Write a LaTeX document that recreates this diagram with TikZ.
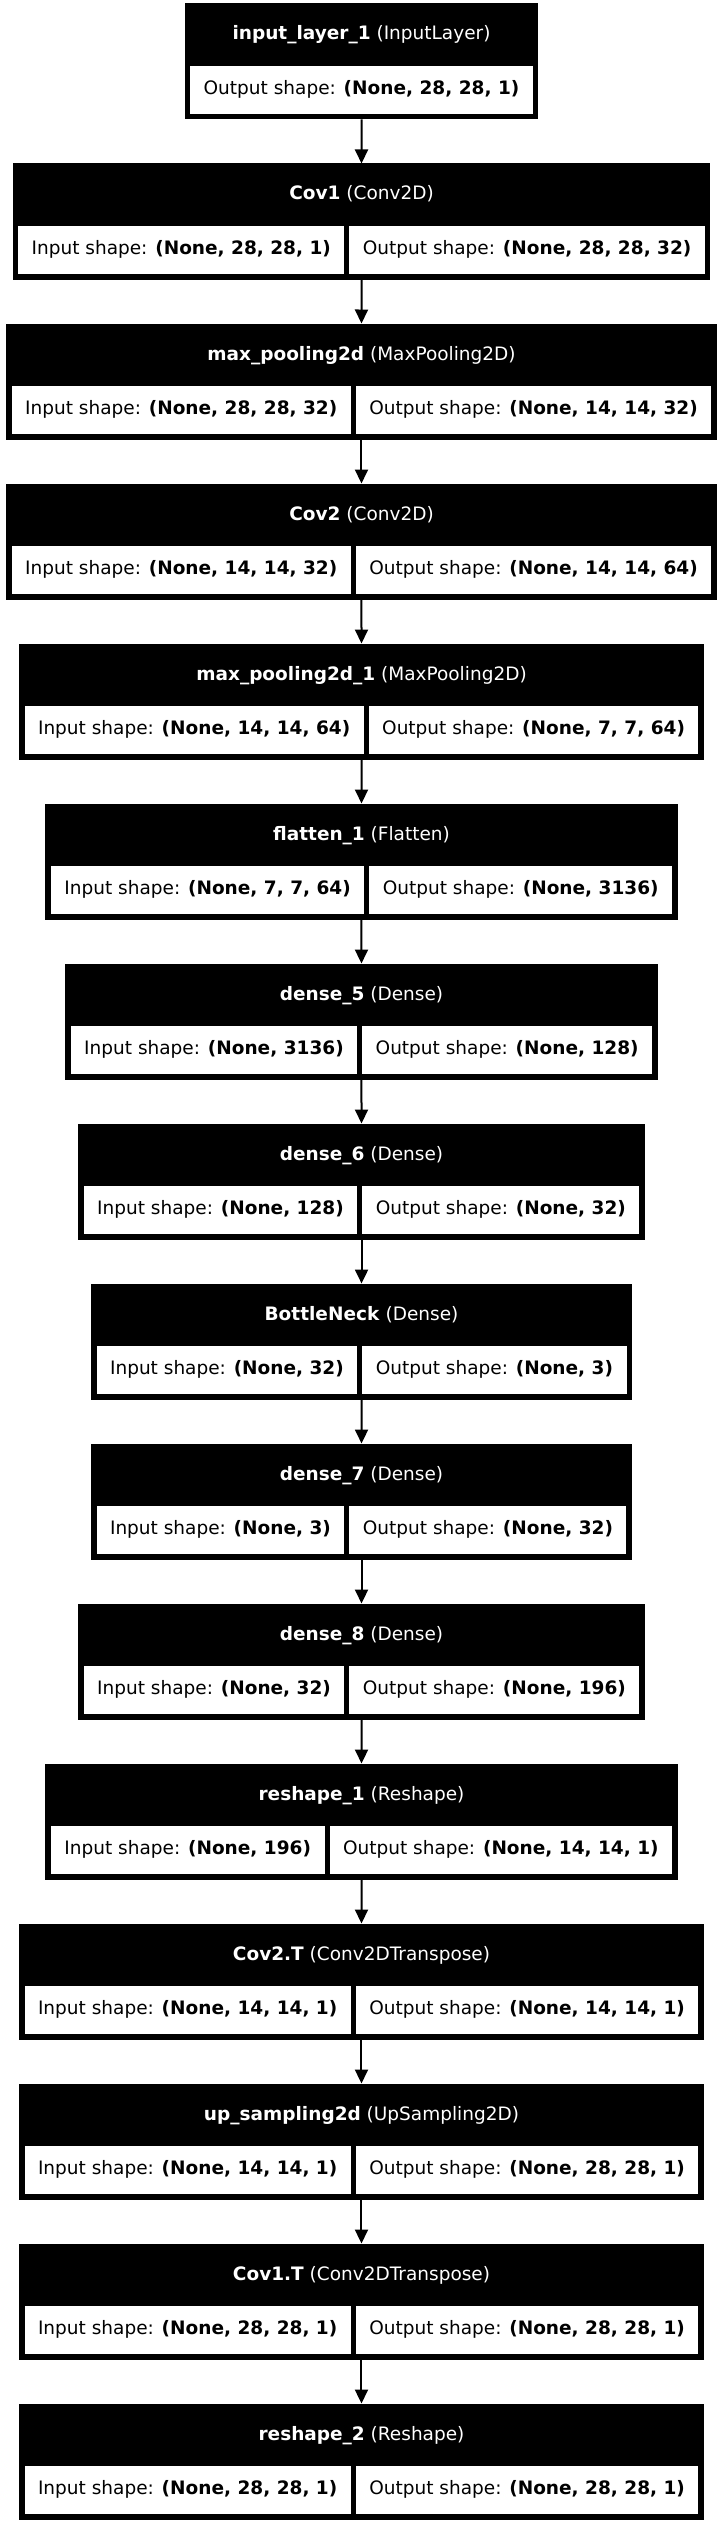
\documentclass[tikz,border=0pt]{standalone}
\usepackage{fontspec}
\setmainfont{DejaVu Sans}
\usetikzlibrary{positioning,calc,arrows.meta,fit,backgrounds}

\begin{document}
\begin{tikzpicture}[x=1pt, y=1pt, font=\fontsize{18.5pt}{22pt}\selectfont,
  layerbox/.style={fill=black, draw=black, line width=1pt, inner sep=0pt},
  headtxt/.style={text=white, anchor=base},
  shapecell/.style={fill=white, draw=black, line width=2pt, minimum height=50pt,
    inner xsep=14.5pt, inner ysep=0pt, text height=13pt, text depth=4pt},
  flow/.style={-{Triangle[length=14pt,width=13pt]}, line width=2pt}]
 \useasboundingbox (0,0) rectangle (723,-2523);
 % input layer: one output cell only
 \node[shapecell] (out1) at (361.5,-90) {Output shape: \textbf{(None, 28, 28, 1)}};
 \coordinate (tl1) at ($(out1.north west)+(-3,60)$);
 \coordinate (br1) at ($(out1.south east)+(3,-3)$);
 \begin{scope}[on background layer]
   \node[layerbox, fit=(tl1)(br1)] (b1) {};
 \end{scope}
 \node[headtxt] (h1) at (361.5,-40) {\textbf{input\_layer\_1} (InputLayer)};
 \foreach \i/\nm/\kind/\ins/\outs/\dv in {
   2/Cov1/Conv2D/{(None, 28, 28, 1)}/{(None, 28, 28, 32)}/346.9,
   3/max\_pooling2d/MaxPooling2D/{(None, 28, 28, 32)}/{(None, 14, 14, 32)}/353.3,
   4/Cov2/Conv2D/{(None, 14, 14, 32)}/{(None, 14, 14, 64)}/353.3,
   5/max\_pooling2d\_1/MaxPooling2D/{(None, 14, 14, 64)}/{(None, 7, 7, 64)}/366.2,
   6/flatten\_1/Flatten/{(None, 7, 7, 64)}/{(None, 3136)}/366.8,
   7/dense\_5/Dense/{(None, 3136)}/{(None, 128)}/359.7,
   8/dense\_6/Dense/{(None, 128)}/{(None, 32)}/359.8,
   9/BottleNeck/Dense/{(None, 32)}/{(None, 3)}/359.8,
   10/dense\_7/Dense/{(None, 3)}/{(None, 32)}/346.9,
   11/dense\_8/Dense/{(None, 32)}/{(None, 196)}/346.9,
   12/reshape\_1/Reshape/{(None, 196)}/{(None, 14, 14, 1)}/327,
   13/Cov2.T/Conv2DTranspose/{(None, 14, 14, 1)}/{(None, 14, 14, 1)}/353.3,
   14/up\_sampling2d/UpSampling2D/{(None, 14, 14, 1)}/{(None, 28, 28, 1)}/353.3,
   15/Cov1.T/Conv2DTranspose/{(None, 28, 28, 1)}/{(None, 28, 28, 1)}/353.3,
   16/reshape\_2/Reshape/{(None, 28, 28, 1)}/{(None, 28, 28, 1)}/353.3}{
   \pgfmathsetmacro{\yy}{-(5+160*(\i-1))}
   \pgfmathtruncatemacro{\prev}{\i-1}
   \node[shapecell, anchor=east] (in\i) at (\dv-0.5,\yy-85) {Input shape: \textbf{\ins}};
   \node[shapecell, anchor=west] (out\i) at (\dv+0.5,\yy-85) {Output shape: \textbf{\outs}};
   \coordinate (tl\i) at ($(in\i.north west)+(-3,60)$);
   \coordinate (br\i) at ($(out\i.south east)+(3,-3)$);
   \begin{scope}[on background layer]
     \node[layerbox, fit=(tl\i)(br\i)] (b\i) {};
   \end{scope}
   \node[headtxt] (h\i) at (361.5,\yy-35) {\textbf{\nm} (\kind)};
   \draw[flow] (b\prev) -- (b\i);
 }
\end{tikzpicture}
\end{document}
